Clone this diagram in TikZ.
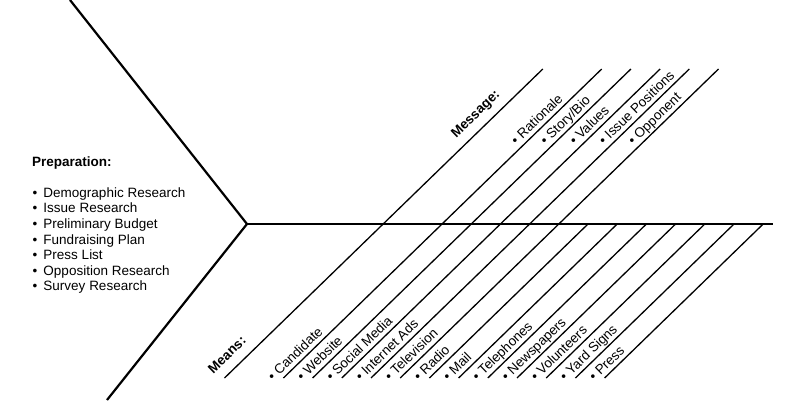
\documentclass[tikz,border=0pt]{standalone}
\usepackage{fontspec}
\setmainfont{Liberation Sans}
\usetikzlibrary{calc}

\begin{document}
\begin{tikzpicture}[x=1pt, y=1pt,
  spine/.style={line width=2.6pt},
  rib/.style={line width=2.2pt},
  bone/.style={line width=1.3pt},
  lbl/.style={font=\fontsize{13.5}{15.6}\selectfont, inner sep=0pt, anchor=base west},
  hd/.style={lbl, font=\fontsize{13.5}{15.6}\selectfont\bfseries},
  tag/.style={lbl, rotate=44.15},
  tagbf/.style={hd, rotate=44.15}
]
\useasboundingbox (0,0) rectangle (787,400);
\coordinate (tail) at (247,176);
\coordinate (head) at (773,176);
\coordinate (ribtop) at (70,400);
\coordinate (ribbot) at (107,0);
\draw[rib] (ribtop) -- (tail) -- (ribbot);
\draw[spine] (tail) -- (head);

% preparation list
\node[hd] (prep) at (32,234) {Preparation:};
\foreach \t [count=\i] in {Demographic Research, Issue Research, Preliminary Budget,
    Fundraising Plan, Press List, Opposition Research, Survey Research}
  \node[lbl] (p\i) at (32.5,202.7-15.6*\i+15.6) {\makebox[10.8pt][l]{•}\t};

% means / message bone
\coordinate (m0) at (224.5,22);
\draw[bone] (m0) -- ++(318.3,309) coordinate (t0);
\node[tagbf] (means) at ($(m0)+(44.15:-5.5)+(134.15:10.5)$) {Means:};
\node[tagbf] (message) at ($(m0)+(44.15:333)+(134.15:10.5)$) {Message:};

% means bones
\foreach \t [count=\i] in {Candidate, Website, Social Media, Internet Ads, Television,
    Radio, Mail, Telephones, Newspapers, Volunteers, Yard Signs, Press} {
  \coordinate (m\i) at (254.2+29.2*\i,22);
  \node[tag] (mn\i) at ($(m\i)+(44.15:-10)+(134.15:4.5)$) {• \t};
}
\foreach \i in {1,...,5}
  \draw[bone] (m\i) -- ++(318.3,309) coordinate (t\i);
\foreach \i in {6,...,12}
  \draw[bone] (m\i) -- ++(158.6,154);

% message items
\foreach \t [count=\i] in {Rationale, Story/Bio, Values, Issue Positions, Opponent}
  \node[tag] (tn\i) at ($(m\i)+(44.15:329)+(134.15:4.5)$) {• \t};
\end{tikzpicture}
\end{document}
